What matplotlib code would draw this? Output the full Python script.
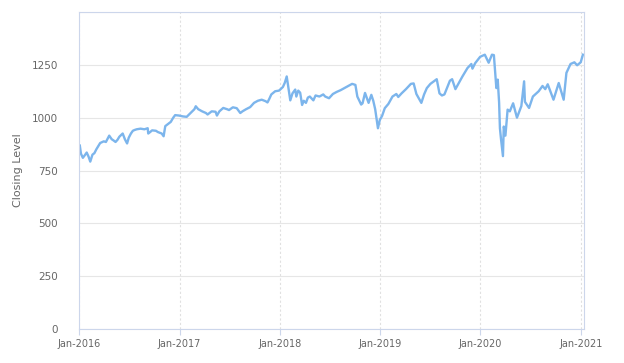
import numpy as np
import pandas as pd
import matplotlib
matplotlib.use('Agg')
import matplotlib.pyplot as plt
import matplotlib.dates as mdates

# approximate closing levels
dates = [
    '2016-01-04', '2016-01-08', '2016-01-15', '2016-01-22', '2016-01-29', '2016-02-05', '2016-02-11',
    '2016-02-19', '2016-02-26', '2016-03-04', '2016-03-11', '2016-03-18', '2016-03-31', '2016-04-08',
    '2016-04-20', '2016-04-29', '2016-05-06', '2016-05-13', '2016-05-20', '2016-05-27', '2016-06-08',
    '2016-06-16', '2016-06-24', '2016-06-30', '2016-07-08', '2016-07-15', '2016-07-22', '2016-07-29',
    '2016-08-12', '2016-08-26', '2016-09-07', '2016-09-09', '2016-09-16', '2016-09-23', '2016-10-07',
    '2016-10-14', '2016-10-28', '2016-11-04', '2016-11-10', '2016-11-18', '2016-11-30', '2016-12-09',
    '2016-12-16', '2016-12-30',
    '2017-01-13', '2017-01-27', '2017-02-10', '2017-02-24', '2017-03-01', '2017-03-10', '2017-03-24',
    '2017-04-07', '2017-04-13', '2017-04-28', '2017-05-12', '2017-05-17', '2017-05-26', '2017-06-09',
    '2017-06-23', '2017-06-30', '2017-07-14', '2017-07-28', '2017-08-10', '2017-08-18', '2017-08-31',
    '2017-09-15', '2017-09-29', '2017-10-13', '2017-10-27', '2017-11-10', '2017-11-17', '2017-11-24',
    '2017-12-01', '2017-12-15', '2017-12-29',
    '2018-01-12', '2018-01-19', '2018-01-26', '2018-02-02', '2018-02-08', '2018-02-16', '2018-02-26',
    '2018-03-02', '2018-03-09', '2018-03-16', '2018-03-23', '2018-03-29', '2018-04-06', '2018-04-13',
    '2018-04-20', '2018-05-03', '2018-05-11', '2018-05-25', '2018-06-08', '2018-06-15', '2018-06-29',
    '2018-07-13', '2018-07-27', '2018-08-10', '2018-08-24', '2018-09-07', '2018-09-21', '2018-10-03',
    '2018-10-10', '2018-10-24', '2018-10-29', '2018-11-07', '2018-11-20', '2018-11-30', '2018-12-07',
    '2018-12-14', '2018-12-24', '2018-12-31',
    '2019-01-08', '2019-01-18', '2019-01-31', '2019-02-15', '2019-03-01', '2019-03-08', '2019-03-20',
    '2019-04-05', '2019-04-23', '2019-05-03', '2019-05-13', '2019-05-31', '2019-06-10', '2019-06-20',
    '2019-07-03', '2019-07-26', '2019-08-05', '2019-08-14', '2019-08-23', '2019-09-12', '2019-09-20',
    '2019-10-02', '2019-10-15', '2019-10-28', '2019-11-15', '2019-11-29', '2019-12-03', '2019-12-13',
    '2019-12-31',
    '2020-01-17', '2020-01-31', '2020-02-12', '2020-02-19', '2020-02-25', '2020-02-28', '2020-03-04',
    '2020-03-09', '2020-03-12', '2020-03-16', '2020-03-23', '2020-03-26', '2020-04-01', '2020-04-09',
    '2020-04-17', '2020-04-29', '2020-05-13', '2020-05-29', '2020-06-08', '2020-06-11', '2020-06-26',
    '2020-07-10', '2020-07-31', '2020-08-14', '2020-08-24', '2020-09-02', '2020-09-23', '2020-10-12',
    '2020-10-30', '2020-11-09', '2020-11-24', '2020-12-08', '2020-12-18', '2020-12-31', '2021-01-08',
]
closing = [
    868, 830, 810, 822, 835, 815, 792,
    825, 832, 850, 865, 880, 888, 885,
    915, 898, 892, 885, 895, 910, 925,
    898, 878, 905, 925, 938, 942, 945,
    948, 945, 950, 925, 932, 940, 938,
    932, 925, 912, 960, 968, 980, 1000,
    1012, 1010,
    1006, 1004, 1022, 1040, 1054, 1040, 1030,
    1022, 1015, 1030, 1028, 1010, 1030, 1046,
    1040, 1036, 1049, 1045, 1022, 1030, 1040,
    1050, 1070, 1080, 1085, 1078, 1072, 1090,
    1110, 1125, 1128,
    1145, 1165, 1195, 1135, 1082, 1115, 1133,
    1100, 1128, 1118, 1060, 1080, 1070, 1095,
    1100, 1082, 1105, 1100, 1110, 1100, 1092,
    1112, 1122, 1130, 1140, 1150, 1160, 1155,
    1100, 1062, 1068, 1117, 1070, 1108, 1080,
    1040, 950, 990,
    1008, 1045, 1065, 1100, 1112, 1098, 1115,
    1135, 1160, 1162, 1112, 1070, 1110, 1140,
    1160, 1182, 1115, 1105, 1110, 1175, 1182,
    1135, 1165, 1196, 1235, 1254, 1232, 1258,
    1288,
    1298, 1260, 1298, 1296, 1190, 1140, 1180,
    1072, 950, 898, 818, 958, 915, 1038,
    1030, 1068, 1000, 1055, 1172, 1075, 1046,
    1100, 1125, 1150, 1135, 1158, 1085, 1164,
    1085, 1212, 1254, 1262, 1248, 1262, 1298,
]

s = pd.Series(closing, index=pd.to_datetime(dates))

fig = plt.figure(figsize=(6.24, 3.63), dpi=100)
ax = fig.add_axes([79 / 624, 1 - 329 / 363, 505 / 624, 317 / 363])

ax.plot(s.index, s.values, color='#7cb5ec', lw=1.7, solid_joinstyle='round')

ax.set_ylim(0, 1500)
ax.set_yticks([0, 250, 500, 750, 1000, 1250, 1500])
ax.set_yticklabels(['0', '250', '500', '750', '1000', '1250', ''])
ax.set_xlim(pd.Timestamp('2016-01-01'), pd.Timestamp('2021-01-12'))
ax.xaxis.set_major_locator(mdates.YearLocator())
ax.xaxis.set_major_formatter(mdates.DateFormatter('%b-%Y'))

ax.grid(axis='y', color='#e6e6e6', lw=0.8)
ax.grid(axis='x', color='#e0e0e0', lw=0.8, ls=(0, (2, 2)))
ax.set_axisbelow(True)
for sp in ax.spines.values():
    sp.set_color('#ccd6eb')
    sp.set_linewidth(0.8)

ax.tick_params(axis='y', length=0, pad=15, labelsize=7.5, labelcolor='#666666')
ax.tick_params(axis='x', length=4, color='#ccd6eb', pad=3, labelsize=7, labelcolor='#666666')
ax.set_ylabel('Closing Level', color='#666666', fontsize=8, labelpad=6)

fig.savefig('out.png', dpi=100)
